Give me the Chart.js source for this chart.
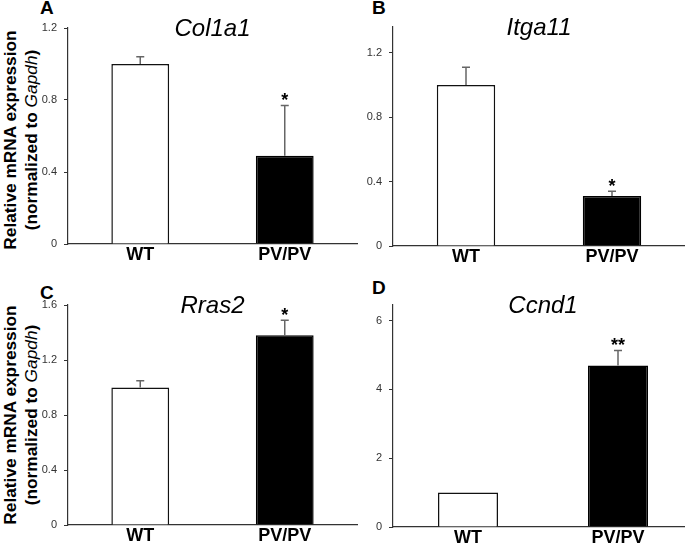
<!DOCTYPE html>
<html>
<head>
<meta charset="utf-8">
<script src="https://cdn.jsdelivr.net/npm/chart.js@4"></script>
<style>
  html, body { margin: 0; padding: 0; background: #fff; overflow: hidden; }
  body { width: 685px; height: 546px; position: relative; font-family: "Liberation Sans", Arial, sans-serif; }
  canvas { position: absolute; }
  .ylab { position: absolute; transform: translate(-50%, -50%) rotate(-90deg); white-space: nowrap;
          text-align: center; font-weight: bold; font-size: 17.3px; line-height: 21px; color: #000; }
  .ylab i { font-weight: normal; }
  .letter { position: absolute; font-weight: bold; font-size: 19px; line-height: 19px; color: #000; }
</style>
</head>
<body>
<div class="letter" style="left:40px;top:-2px">A</div>
<div class="letter" style="left:372px;top:-2px">B</div>
<div class="letter" style="left:40px;top:283px">C</div>
<div class="letter" style="left:372px;top:278px">D</div>
<div class="ylab" style="left:21px;top:140px">Relative mRNA expression<br>(normalized to <i>Gapdh</i>)</div>
<div class="ylab" style="left:21px;top:415px">Relative mRNA expression<br>(normalized to <i>Gapdh</i>)</div>

<canvas id="cA" width="360" height="270" style="left:0;top:0"></canvas>
<canvas id="cB" width="340" height="270" style="left:345px;top:0"></canvas>
<canvas id="cC" width="360" height="276" style="left:0;top:270px"></canvas>
<canvas id="cD" width="348" height="276" style="left:345px;top:270px"></canvas>

<script>
// data
const genes = ['Col1a1', 'Itga11', 'Rras2', 'Ccnd1'];
const categories = ['WT', 'PV/PV'];
const col1a1 = [1.0, 0.49];
const itga11 = [1.0, 0.31];
const rras2 = [1.0, 1.38];
const ccnd1 = [1.0, 4.69];
const col1a1Err = [0.04, 0.28];
const itga11Err = [0.11, 0.03];
const rras2Err = [0.05, 0.11];
const ccnd1Err = [0, 0.44];
const stars = [['', '*'], ['', '*'], ['', '*'], ['', '**']];
const yMax = [1.2, 1.36, 1.6, 6.45];
const yTicks = [[0, 0.4, 0.8, 1.2], [0, 0.4, 0.8, 1.2], [0, 0.4, 0.8, 1.2, 1.6], [0, 2, 4, 6]];

const means = [col1a1, itga11, rras2, ccnd1];
const errs = [col1a1Err, itga11Err, rras2Err, ccnd1Err];

const family = '"Liberation Sans", Arial, sans-serif';

// layout per panel
const pads = [
  {top: 28, left: 0, right: 3, bottom: 0},
  {top: 27, left: 0, right: 0, bottom: 0},
  {top: 35, left: 0, right: 3, bottom: 0},
  {top: 35, left: 0, right: 0, bottom: 0}
];
const yW = [68, 48, 68, 48];
const xH = [26, 24, 21, 19];

const errPlugin = {
  id: 'errbars',
  afterDatasetsDraw(chart) {
    const i = chart.options.panel;
    const ctx = chart.ctx;
    const y = chart.scales.y;
    const meta = chart.getDatasetMeta(0);
    ctx.save();
    meta.data.forEach(function(bar, j) {
      const top = y.getPixelForValue(means[i][j] + errs[i][j]);
      const base = y.getPixelForValue(means[i][j]);
      if (errs[i][j] > 0) {
        ctx.strokeStyle = '#666';
        ctx.lineWidth = 1.5;
        ctx.beginPath();
        ctx.moveTo(bar.x, base);
        ctx.lineTo(bar.x, top);
        ctx.moveTo(bar.x - 4, top);
        ctx.lineTo(bar.x + 4, top);
        ctx.stroke();
      }
      if (stars[i][j]) {
        ctx.fillStyle = '#000';
        ctx.font = 'bold 18px ' + family;
        ctx.textAlign = 'center';
        ctx.textBaseline = 'alphabetic';
        ctx.fillText(stars[i][j], bar.x, top + 1);
      }
    });
    // gene name
    const area = chart.chartArea;
    ctx.fillStyle = '#000';
    ctx.font = 'italic 24px ' + family;
    ctx.textAlign = 'center';
    ctx.textBaseline = 'middle';
    ctx.fillText(genes[i], (area.left + area.right) / 2, area.top + 1);
    ctx.restore();
  }
};

function makeChart(id, i) {
  new Chart(document.getElementById(id), {
    type: 'bar',
    data: {
      labels: categories,
      datasets: [{
        data: means[i],
        backgroundColor: ['#fff', '#000'],
        borderColor: ['#111', '#000'],
        borderWidth: 1.5,
        barPercentage: 0.5,
        categoryPercentage: 0.8
      }]
    },
    options: {
      panel: i,
      responsive: false,
      animation: false,
      events: [],
      layout: { padding: pads[i] },
      plugins: { legend: { display: false }, tooltip: { enabled: false } },
      scales: {
        x: {
          grid: { display: false, drawTicks: false },
          border: { color: '#333', width: 1.2 },
          ticks: { color: '#000', padding: 0, font: { size: 18, weight: 'bold', family: family } },
          afterFit: function(s) { s.height = xH[i]; }
        },
        y: {
          min: 0,
          max: yMax[i],
          afterBuildTicks: function(s) { s.ticks = yTicks[i].map(v => ({ value: v })); },
          ticks: { color: '#333', padding: 7, font: { size: 11, family: family }, callback: v => String(v) },
          grid: { drawOnChartArea: false, drawTicks: true, tickLength: 4, color: '#333' },
          border: { color: '#333', width: 1.2 },
          afterFit: function(s) { s.width = yW[i]; }
        }
      }
    },
    plugins: [errPlugin]
  });
}

makeChart('cA', 0);
makeChart('cB', 1);
makeChart('cC', 2);
makeChart('cD', 3);
</script>
</body>
</html>
